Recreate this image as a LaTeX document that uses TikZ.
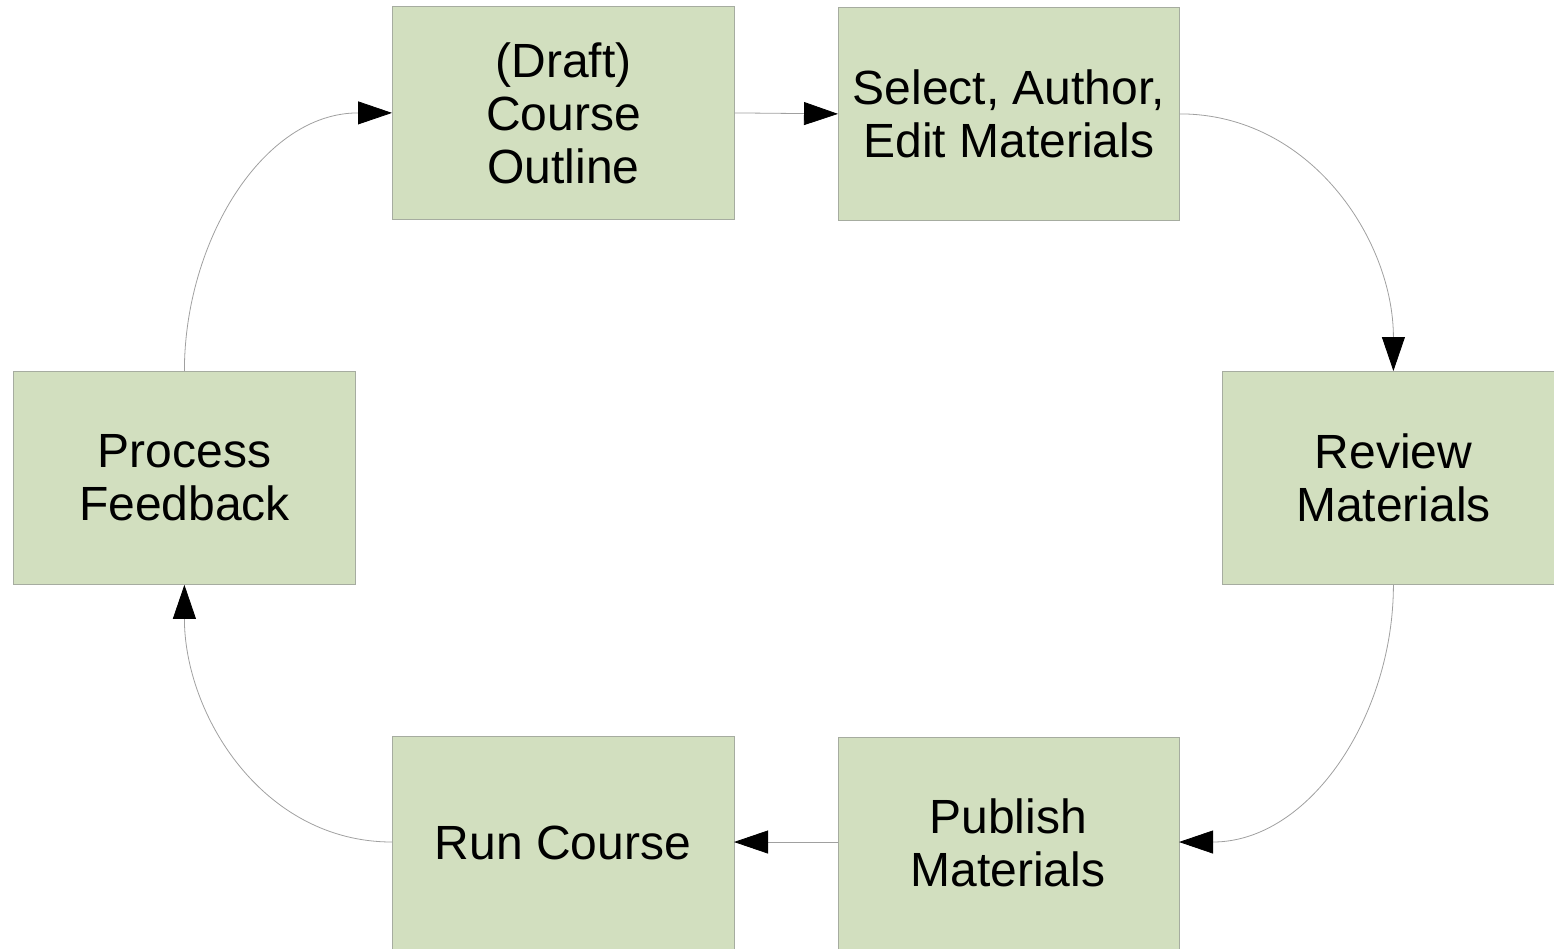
\documentclass[tikz,border=0pt]{standalone}
\usepackage{fontspec}
\setmainfont{Liberation Sans}
\usetikzlibrary{arrows.meta}
\definecolor{boxfill}{HTML}{D2DFBF}
\definecolor{boxline}{HTML}{A6ACA0}
\definecolor{linkline}{HTML}{A0A0A0}
\tikzset{
  stepbox/.style={draw=boxline, line width=0.8pt, fill=boxfill, anchor=north west, inner sep=0pt,
    align=center, font=\fontsize{48}{53}\selectfont},
  link/.style={draw=linkline, line width=0.8pt,
    -{Triangle[length=34pt,width=23pt,fill=black,color=black]}}
}
\begin{document}
\begin{tikzpicture}[x=1pt,y=-1pt]
\useasboundingbox (0,0) rectangle (1554,948);
\clip (0,0) rectangle (1554,948);
\node[stepbox, minimum width=342pt, minimum height=213pt] (draft) at (392,6) {(Draft)\\Course\\Outline};
\node[stepbox, minimum width=341pt, minimum height=213pt] (select) at (838,7) {Select, Author,\\Edit Materials};
\node[stepbox, minimum width=342pt, minimum height=213pt] (review) at (1222,371) {Review\\Materials};
\node[stepbox, minimum width=342pt, minimum height=213pt] (feedback) at (13,371) {Process\\Feedback};
\node[draw=boxline, line width=0.8pt, fill=boxfill, minimum width=341pt, minimum height=240pt, anchor=north west, inner sep=0pt] (publish) at (838,737) {};
\node[align=center, font=\fontsize{48}{53}\selectfont, inner sep=0pt] (publishtext) at (1008,843) {Publish\\Materials};
\node[draw=boxline, line width=0.8pt, fill=boxfill, minimum width=342pt, minimum height=240pt, anchor=north west, inner sep=0pt] (run) at (392,736) {};
\node[font=\fontsize{48}{53}\selectfont, inner sep=0pt] (runtext) at (563,843) {Run Course};
\coordinate (publishright) at (1179,842);
\coordinate (publishleft) at (838,842);
\coordinate (runright) at (734,842);
\coordinate (runleft) at (392,842);
\draw[link] (draft.east) -- (select.west);
\draw[link] (select.east) to[out=0,in=90] (review.north);
\draw[link] (review.south) to[out=-90,in=0] (publishright);
\draw[link] (publishleft) -- (runright);
\draw[link] (runleft) to[out=180,in=-90] (feedback.south);
\draw[link] (feedback.north) to[out=90,in=180] (draft.west);
\end{tikzpicture}
\end{document}
